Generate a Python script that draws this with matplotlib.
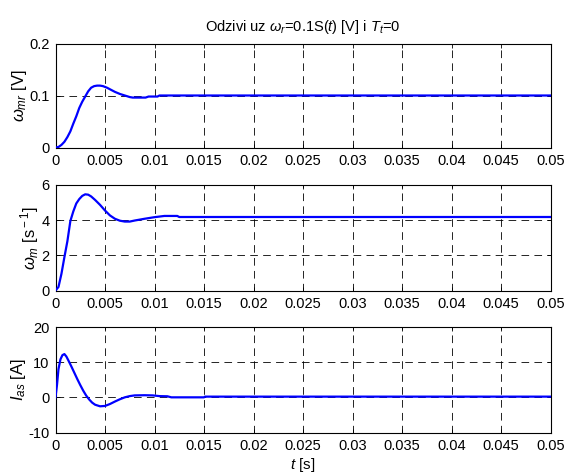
import matplotlib
matplotlib.use("Agg")
import matplotlib.pyplot as plt

plt.rcParams['font.family'] = ['Liberation Sans', 'DejaVu Sans']
plt.rcParams['mathtext.fontset'] = 'custom'
plt.rcParams['mathtext.rm'] = 'Liberation Sans'
plt.rcParams['mathtext.it'] = 'Liberation Sans:italic'
plt.rcParams['mathtext.default'] = 'it'
plt.rcParams['lines.scale_dashes'] = False

# ---- data ----
t_wmr = [0, 0.0003, 0.0006, 0.0009, 0.0012, 0.0015, 0.0018, 0.0021, 0.0024, 0.0027,
         0.003, 0.0033, 0.0036, 0.0039, 0.0042, 0.0045, 0.0048, 0.0052, 0.0056, 0.006,
         0.0065, 0.007, 0.0075, 0.0078, 0.0085, 0.0091, 0.0094, 0.0103, 0.0105, 0.05]
wmr = [0, 0.001, 0.005, 0.011, 0.02, 0.031, 0.046, 0.06, 0.076, 0.088,
       0.098, 0.108, 0.115, 0.118, 0.119, 0.119, 0.118, 0.115, 0.111, 0.107,
       0.103, 0.1, 0.097, 0.096, 0.096, 0.096, 0.098, 0.098, 0.1, 0.1]

t_wm = [0, 0.0003, 0.0006, 0.0009, 0.0012, 0.0015, 0.0018, 0.0021, 0.0024, 0.0027,
        0.003, 0.0033, 0.0036, 0.004, 0.0045, 0.005, 0.0055, 0.006, 0.0065, 0.007,
        0.0075, 0.008, 0.009, 0.01, 0.011, 0.0123, 0.0125, 0.05]
wm = [0, 0.2, 0.95, 1.9, 2.8, 3.95, 4.5, 4.95, 5.2, 5.38,
      5.47, 5.45, 5.35, 5.15, 4.87, 4.55, 4.27, 4.08, 3.97, 3.92,
      3.92, 3.98, 4.08, 4.17, 4.24, 4.24, 4.18, 4.18]

t_ias = [0, 0.00015, 0.0003, 0.0005, 0.0007, 0.0009, 0.0011, 0.0013, 0.0016, 0.0019,
         0.0022, 0.0025, 0.0028, 0.0031, 0.0034, 0.0037, 0.004, 0.0045, 0.005, 0.0055,
         0.006, 0.0065, 0.007, 0.0075, 0.008, 0.009, 0.0098, 0.0105, 0.0113, 0.0117,
         0.015, 0.0151, 0.05]
ias = [0, 3.5, 8, 10.8, 12.0, 12.3, 11.6, 10.5, 8.8, 7.0,
       5.2, 3.5, 1.9, 0.5, -0.6, -1.5, -2.1, -2.55, -2.45, -1.9,
       -1.2, -0.55, 0.0, 0.35, 0.55, 0.6, 0.55, 0.35, 0.3, 0.0,
       0.0, 0.2, 0.2]

xticks = [0, 0.005, 0.01, 0.015, 0.02, 0.025, 0.03, 0.035, 0.04, 0.045, 0.05]
xticklabels = ['0', '0.005', '0.01', '0.015', '0.02', '0.025', '0.03', '0.035', '0.04', '0.045', '0.05']
yticks_wmr = [0, 0.1, 0.2]
yticklabels_wmr = ['0', '0.1', '0.2']
yticks_wm = [0, 2, 4, 6]
yticks_ias = [-10, 0, 10, 20]

title = r'Odzivi uz $\omega_r$=0.1S($t$) [V] i $T_t$=0'

fig = plt.figure(figsize=(5.66, 4.75), dpi=100)
W, H = 566.0, 475.0
left = 55.5 / W
width = (550.5 - 55.5) / W

def make_ax(top_px, bot_px):
    return fig.add_axes([left, 1 - bot_px / H, width, (bot_px - top_px) / H])

ax1 = make_ax(43.5, 147.5)
ax2 = make_ax(185.0, 290.5)
ax3 = make_ax(327.0, 432.5)

series = [
    (ax1, t_wmr, wmr, (0, 0.2), yticks_wmr, yticklabels_wmr, r'$\omega_{mr}$ [V]'),
    (ax2, t_wm, wm, (0, 6), yticks_wm, [str(v) for v in yticks_wm], r'$\omega_m$ [s$^{\rm -1}$]'),
    (ax3, t_ias, ias, (-10, 20), yticks_ias, [str(v) for v in yticks_ias], r'$I_{as}$ [A]'),
]

for ax, t, y, ylim, yt, ytl, ylab in series:
    ax.plot(t, y, color=(0, 0, 1), linewidth=1.6, zorder=3)
    ax.set_xlim(0, 0.05)
    ax.set_ylim(*ylim)
    ax.set_xticks(xticks)
    ax.set_xticklabels(xticklabels)
    ax.set_yticks(yt)
    ax.set_yticklabels(ytl)
    ax.grid(True, color='black', linestyle=(0, (5.5, 3.8)), linewidth=0.6)
    ax.tick_params(direction='in', length=3, width=0.6, labelsize=10.5, top=True, right=True)
    ax.tick_params(axis='x', pad=5)
    ax.tick_params(axis='y', pad=4.5)
    for s in ax.spines.values():
        s.set_linewidth(0.8)
    ax.set_ylabel(ylab, fontsize=12, labelpad=0)

ax1.set_title(title, fontsize=10.5, pad=9)
ax3.set_xlabel(r'$t$ [s]', fontsize=11, labelpad=1.5)

fig.savefig('out.png', dpi=100)
